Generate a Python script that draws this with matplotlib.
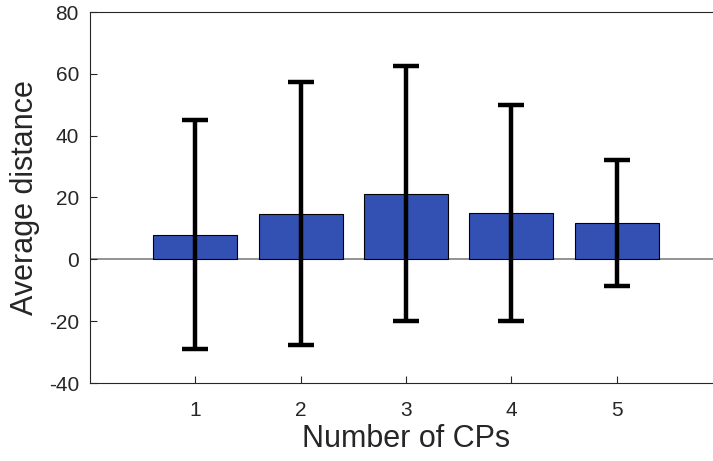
import matplotlib.pyplot as plt

# mean distance and spread for each number of CPs
num_cps = [1, 2, 3, 4, 5]
avg_dist = [8.0, 14.8, 21.2, 15.0, 11.8]
std_dist = [37.1, 42.4, 41.2, 35.0, 20.3]

plt.rcParams['font.family'] = ['Liberation Sans', 'DejaVu Sans']
plt.rcParams['axes.unicode_minus'] = False

fig = plt.figure(figsize=(7.13, 4.61), dpi=100)
ax = fig.add_axes([90 / 713, 78 / 461, 632 / 713, 371 / 461])

ax.bar(num_cps, avg_dist, width=0.8, color='#3350b3', edgecolor='black',
       linewidth=0.8, zorder=2)
ax.axhline(0, color='#808080', linewidth=1.2, zorder=1)
ax.errorbar(num_cps, avg_dist, yerr=std_dist, fmt='none', ecolor='black',
            elinewidth=3.2, capsize=9.5, capthick=3.2, zorder=3)

ax.set_xlim(0, 6)
ax.set_ylim(-40, 80)
ax.set_xticks(num_cps)
ax.set_yticks(range(-40, 81, 20))
ax.tick_params(direction='in', length=5, width=0.8, labelsize=15,
               colors='#262626')
ax.tick_params(axis='x', pad=13)
ax.tick_params(axis='y', pad=8)
for side in ['left', 'bottom', 'top', 'right']:
    ax.spines[side].set_color('#262626')
    ax.spines[side].set_linewidth(0.8)

ax.set_xlabel('Number of CPs', fontsize=22, color='#262626', labelpad=3)
ax.set_ylabel('Average distance', fontsize=22, color='#262626', labelpad=6)

fig.savefig('out.png', dpi=100)
